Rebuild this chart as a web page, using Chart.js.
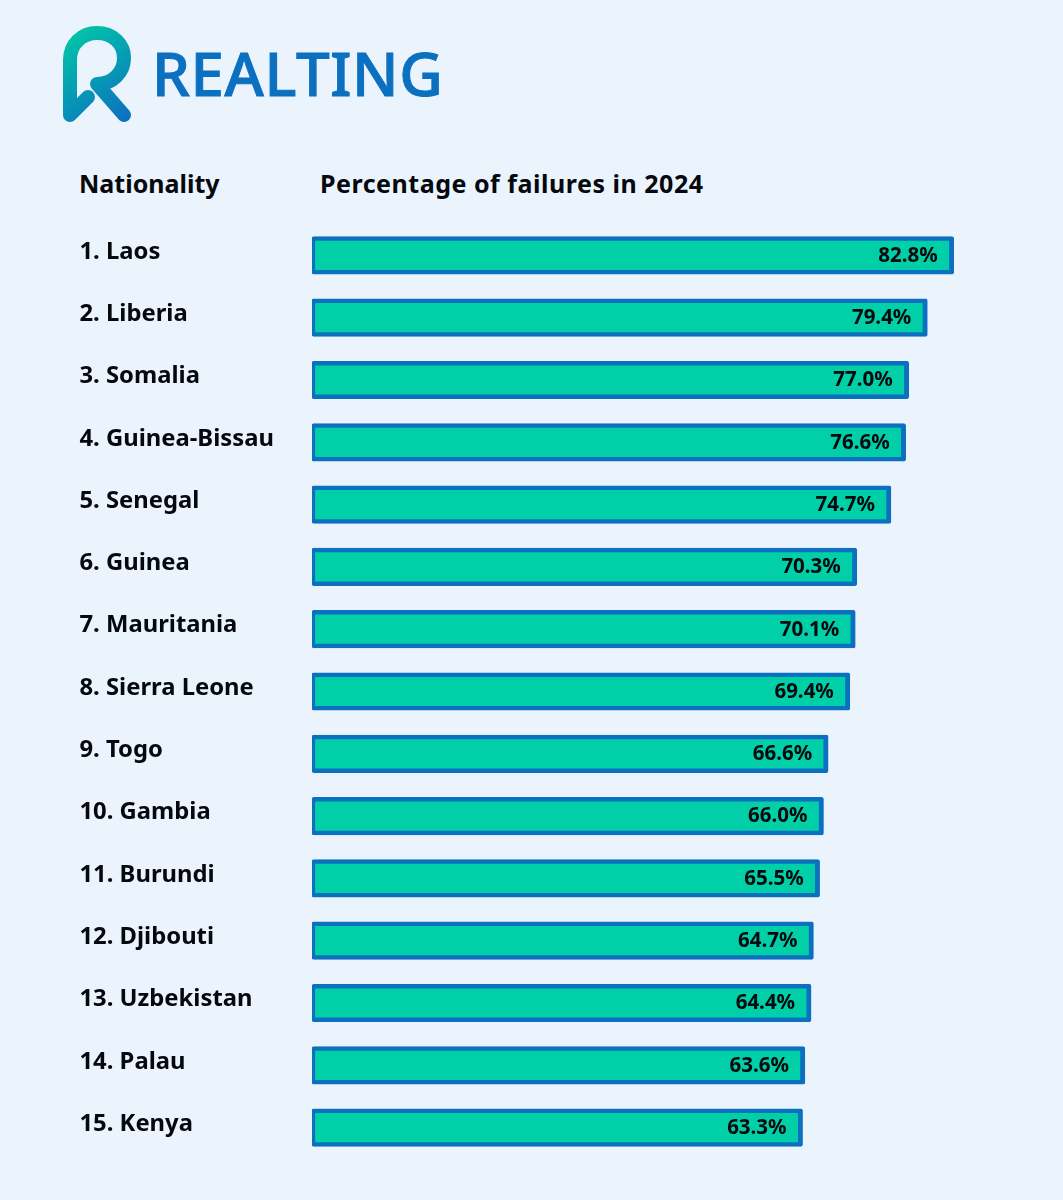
<!DOCTYPE html>
<html>
<head>
<meta charset="utf-8">
<title>Percentage of failures in 2024</title>
<script src="https://cdn.jsdelivr.net/npm/chart.js@4"></script>
<style>
	html, body { margin: 0; background: #ebf3fd; }
	#page { position: relative; width: 1063px; height: 1200px; overflow: hidden; font-family: "Noto Sans", sans-serif; }
	#data { position: absolute; left: 0; top: 0; }
	.head { position: absolute; top: 166px; font-size: 25px; line-height: 34px; font-weight: 700; color: #05080c; white-space: nowrap; }
	#brand { position: absolute; left: 152px; top: 32px; font-size: 60px; line-height: 82px; font-weight: 500; letter-spacing: 0.6px; color: #0c70c0; white-space: nowrap; -webkit-text-stroke: 1px #0c70c0; }
	#mark { position: absolute; left: 0; top: 0; }
</style>
</head>
<body>
<div id="page">
	<svg id="mark" width="150" height="135">
		<defs>
			<linearGradient id="markFill" gradientUnits="userSpaceOnUse" x1="66" y1="30" x2="128" y2="118">
				<stop offset="0" stop-color="#00c9a7"/>
				<stop offset="1" stop-color="#0c70c0"/>
			</linearGradient>
		</defs>
		<path d="M88 97 L70 115 L70 60 C70 44 82 33 97 33 C113 33 124 44 124 58 C124 72 113 84 97 84 L124 115" fill="none" stroke="url(#markFill)" stroke-width="14" stroke-linecap="round" stroke-linejoin="round"/>
	</svg>
	<div id="brand">REALTING</div>
	<div class="head" style="left:79px">Nationality</div>
	<div class="head" style="left:320px;letter-spacing:0.52px">Percentage of failures in 2024</div>
	<canvas id="data" width="1063" height="1200"></canvas>
</div>
<script>
const categories = ["1. Laos", "2. Liberia", "3. Somalia", "4. Guinea-Bissau", "5. Senegal", "6. Guinea", "7. Mauritania", "8. Sierra Leone", "9. Togo", "10. Gambia", "11. Burundi", "12. Djibouti", "13. Uzbekistan", "14. Palau", "15. Kenya"];
const failures = [82.8, 79.4, 77.0, 76.6, 74.7, 70.3, 70.1, 69.4, 66.6, 66.0, 65.5, 64.7, 64.4, 63.6, 63.3];

// value labels sit inside the bar end
const valueLabels = {
	id: "valueLabels",
	afterDatasetsDraw(chart) {
		const { ctx, scales } = chart;
		ctx.save();
		ctx.font = "700 20.5px 'Noto Sans'";
		ctx.fillStyle = "#05080c";
		ctx.textAlign = "right";
		ctx.textBaseline = "middle";
		failures.forEach((value, i) => {
			ctx.fillText(value.toFixed(1) + "%", scales.x.getPixelForValue(value) - 16, scales.y.getPixelForValue(i) + 0.5);
		});
		ctx.restore();
	}
};

new Chart(document.getElementById("data"), {
	type: "bar",
	plugins: [valueLabels],
	data: {
		labels: categories,
		datasets: [
			{
				data: failures,
				backgroundColor: "#00cfa8",
				borderColor: "#0c70c0",
				borderWidth: { left: 3.5, top: 4.5, bottom: 4.5, right: 5 },
				borderSkipped: false,
				borderRadius: 2,
				barThickness: 37.5
			}
		]
	},
	options: {
		indexAxis: "y",
		responsive: false,
		animation: false,
		layout: {
			padding: { left: 79.5, right: 53.5, top: 224.25, bottom: 41.25 }
		},
		scales: {
			x: {
				min: 0,
				max: 90,
				display: false
			},
			y: {
				afterFit(scale) {
					scale.width = 232.5;
				},
				grid: { display: false },
				border: { display: false },
				ticks: {
					crossAlign: "far",
					autoSkip: false,
					labelOffset: -3.5,
					color: "#05080c",
					font: { family: "'Noto Sans'", size: 23.8, weight: "700" }
				}
			}
		},
		plugins: {
			legend: { display: false },
			tooltip: { enabled: false }
		}
	}
});
</script>
</body>
</html>
